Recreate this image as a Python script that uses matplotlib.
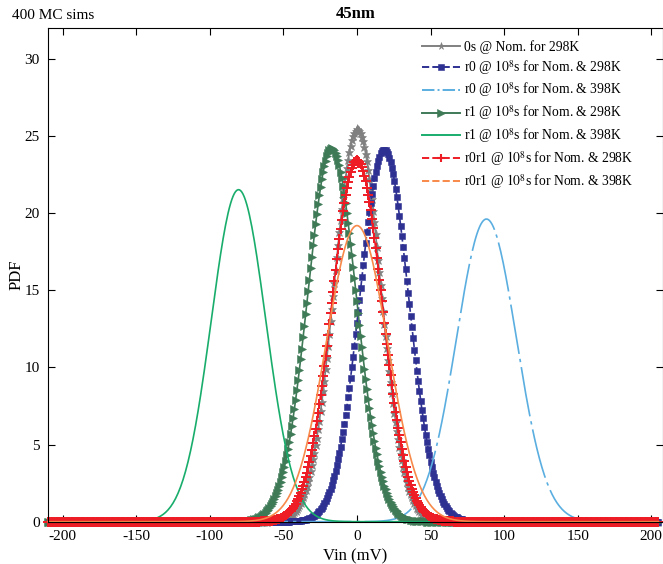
import numpy as np
import matplotlib
matplotlib.use("Agg")
import matplotlib.pyplot as plt
from matplotlib.lines import Line2D

plt.rcParams["font.family"] = ["Liberation Serif", "DejaVu Serif"]
plt.rcParams["mathtext.fontset"] = "stix"
plt.rcParams["axes.unicode_minus"] = False

# fitted normal parameters (mV)
labels = [
    "0s @ Nom. for 298K",
    "r0 @ $10^8$s for Nom. & 298K",
    "r0 @ $10^8$s for Nom. & 398K",
    "r1 @ $10^8$s for Nom. & 298K",
    "r1 @ $10^8$s for Nom. & 398K",
    "r0r1 @ $10^8$s for Nom. & 298K",
    "r0r1 @ $10^8$s for Nom. & 398K",
]
means = [0.3, 18.5, 88.0, -17.0, -80.5, 0.0, 0.0]
sigmas = [15.7, 16.55, 20.35, 16.5, 18.55, 17.05, 20.8]

colors = ["#808080", "#2e3192", "#5aaee0", "#3f7a57", "#19ad6c", "#ee1c25", "#f7894a"]
legend_styles = ["-", "--", "-.", "-", "-", "--", "--"]
markers = ["*", "s", None, ">", None, "+", None]
msizes = [6.5, 4.5, 0, 6, 0, 7, 0]

vin = np.arange(-210, 205.5, 0.85)

fig = plt.figure(figsize=(6.63, 5.64), dpi=100)
ax = fig.add_axes([0.0724, 0.075, 0.9276, 0.876])

handles = []
for lab, mu, sd, c, ls, mk, ms in zip(labels, means, sigmas, colors, legend_styles, markers, msizes):
    s = sd / 1000.0
    pdf = np.exp(-0.5 * ((vin - mu) / sd) ** 2) / (s * np.sqrt(2 * np.pi))
    # dense sampling makes the dashes run together, as in the original
    curve_ls = "-" if mk is None else ls
    if c == "#5aaee0":
        curve_ls = (0, (30, 3, 2, 3))
    ax.plot(vin, pdf, color=c, linestyle=curve_ls, linewidth=1.2, clip_on=False,
            marker=mk, markersize=ms, markeredgewidth=1.4 if mk == "+" else 0.4)
    handles.append(Line2D([], [], color=c, linestyle=ls, linewidth=1.4, marker=mk,
                          markersize=ms * 0.85, markeredgewidth=1.5 if mk == "+" else 0.4, label=lab))

ax.set_xlim(-210, 208)
ax.set_ylim(0, 32)
ax.set_xticks(np.arange(-200, 201, 50))
ax.set_yticks(np.arange(0, 31, 5))
ax.tick_params(direction="in", top=True, right=True, labelsize=11, length=5, pad=6)
ax.set_xlabel("Vin (mV)", fontsize=12)
ax.set_ylabel("PDF", fontsize=12, labelpad=0)
ax.set_title("45nm", fontsize=12, fontweight="bold", pad=7)
fig.text(0.018, 0.973, "400 MC sims", fontsize=11, va="center")

ax.legend(handles=handles, loc="upper right", bbox_to_anchor=(0.972, 1.0), frameon=False,
          fontsize=9.8, handlelength=2.8, handletextpad=0.3, labelspacing=0.3)

fig.savefig("out.png", dpi=100)
